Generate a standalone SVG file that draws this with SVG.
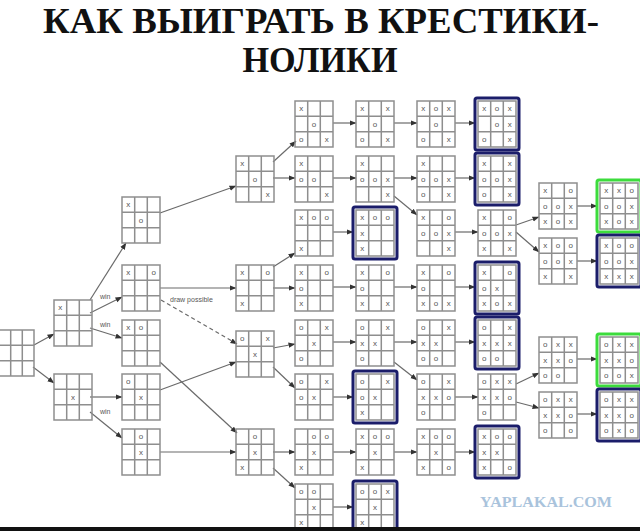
<svg xmlns="http://www.w3.org/2000/svg" xmlns:xlink="http://www.w3.org/1999/xlink" width="640" height="531" viewBox="0 0 640 531">
<style>
.g{fill:none;stroke:#8e8e8e;stroke-width:1.5}
.m{font-family:"Liberation Sans",Arial,sans-serif;font-size:8px;fill:#555;text-anchor:middle;opacity:0.99}
.c{stroke:#6a6a6a;stroke-width:1.2;fill:none;marker-end:url(#ah)}
.d{stroke-dasharray:4 3}
.lb{font-family:"Liberation Sans",Arial,sans-serif;font-size:7px;fill:#555;opacity:0.99}
.bl{fill:none;stroke:#1b1d6a;stroke-width:3;stroke-linejoin:round}
.gr{fill:none;stroke:#3cdc3c;stroke-width:3;stroke-linejoin:round}
.t{font-family:"Liberation Serif","Times New Roman",serif;font-weight:bold;font-size:36px;fill:#111;text-anchor:middle}
</style>
<defs>
<marker id="ah" markerWidth="7" markerHeight="6" refX="6.5" refY="3" orient="auto" markerUnits="userSpaceOnUse"><path d="M0,0.4 L7,3 L0,5.6Z" fill="#333"/></marker>
<g id="grid"><rect x="0" y="0" width="38" height="46" class="g"/><path d="M12.7,0V46M25.3,0V46M0,15.3H38M0,30.7H38" class="g"/></g>
<rect id="blue" x="-3" y="-3" width="44" height="52" rx="2" class="bl"/>
<rect id="green" x="-3" y="-3" width="44" height="52" rx="2" class="gr"/>
</defs>
<rect width="640" height="531" fill="#fff"/>
<text class="t" x="321" y="33" textLength="556" lengthAdjust="spacingAndGlyphs">КАК ВЫИГРАТЬ В КРЕСТИКИ-</text>
<text class="t" x="320" y="72" textLength="155" lengthAdjust="spacingAndGlyphs">НОЛИКИ</text>

<g id="connectors">
<path class="c" d="M34,345L54,334"/>
<path class="c" d="M33,367L54,383"/>
<path class="c" d="M90,300L126,243"/>
<path class="c" d="M90,313L122,297"/>
<path class="c" d="M90,328L122,338"/>
<path class="c" d="M90,397L122,397"/>
<path class="c" d="M90,412L122,438"/>
<path class="c" d="M160,213L236,186"/>
<path class="c" d="M160,288L236,288"/>
<path class="c d" d="M161,300L237,344"/>
<path class="c" d="M160,390L236,362"/>
<path class="c" d="M160,362L237,433"/>
<path class="c" d="M160,452L236,452"/>
<path class="c" d="M273,162L296,141"/>
<path class="c" d="M273,178L295,178"/>
<path class="c" d="M273,267L295,253"/>
<path class="c" d="M273,288L295,288"/>
<path class="c" d="M273,348L295,344"/>
<path class="c" d="M273,367L295,388"/>
<path class="c" d="M273,452L295,452"/>
<path class="c" d="M273,468L295,488"/>
<path class="c" d="M333,123L356,123"/>
<path class="c" d="M333,178L356,178"/>
<path class="c" d="M333,232L353,232"/>
<path class="c" d="M333,287L356,287"/>
<path class="c" d="M333,342L356,342"/>
<path class="c" d="M333,397L353,397"/>
<path class="c" d="M333,452L356,452"/>
<path class="c" d="M333,507L353,507"/>
<path class="c" d="M394,123L417,123"/>
<path class="c" d="M394,178L417,178"/>
<path class="c" d="M394,196L417,215"/>
<path class="c" d="M394,287L417,287"/>
<path class="c" d="M394,342L417,342"/>
<path class="c" d="M394,362L417,380"/>
<path class="c" d="M394,452L417,452"/>
<path class="c" d="M455,123L475,123"/>
<path class="c" d="M455,178L475,178"/>
<path class="c" d="M455,232L478,232"/>
<path class="c" d="M455,287L475,287"/>
<path class="c" d="M455,342L475,342"/>
<path class="c" d="M455,397L478,397"/>
<path class="c" d="M455,452L475,452"/>
<path class="c" d="M516,225L539,217"/>
<path class="c" d="M516,232L539,252"/>
<path class="c" d="M577,206L597,206"/>
<path class="c" d="M577,261L597,261"/>
<path class="c" d="M516,384L539,373"/>
<path class="c" d="M516,402L539,408"/>
<path class="c" d="M577,359L597,359"/>
<path class="c" d="M577,414L597,414"/>
<text class="lb" x="100" y="299">win</text>
<text class="lb" x="100" y="327">win</text>
<text class="lb" x="100" y="414">win</text>
<text class="lb" x="170" y="302">draw possible</text>
</g>

<g id="n0" transform="translate(-1,330)"><rect x="0" y="0" width="35" height="46" class="g"/><path d="M11.7,0V46M23.3,0V46M0,15.3H35M0,30.7H35" class="g"/></g>

<g id="n1a" transform="translate(54,300)"><use href="#grid"/><text class="m" x="6.3" y="10.3">x</text></g>
<g id="n1b" transform="translate(54,374)"><use href="#grid"/><text class="m" x="19" y="25.6">x</text></g>

<g id="n2a" transform="translate(122,197)"><use href="#grid"/><text class="m" x="6.3 19" y="10.3 25.6">xo</text></g>
<g id="n2b" transform="translate(122,265)"><use href="#grid"/><text class="m" x="6.3 31.7" y="10.3 10.3">xo</text></g>
<g id="n2c" transform="translate(122,320)"><use href="#grid"/><text class="m" x="6.3 19" y="10.3 10.3">xo</text></g>
<g id="n2d" transform="translate(122,374)"><use href="#grid"/><text class="m" x="6.3 19" y="10.3 25.6">ox</text></g>
<g id="n2e" transform="translate(122,429)"><use href="#grid"/><text class="m" x="19 19" y="10.3 25.6">ox</text></g>

<g id="n3a" transform="translate(236,156)"><use href="#grid"/><text class="m" x="6.3 19 31.7" y="10.3 25.6 40.9">xox</text></g>
<g id="n3b" transform="translate(236,265)"><use href="#grid"/><text class="m" x="6.3 31.7 6.3" y="10.3 10.3 40.9">xox</text></g>
<g id="n3c" transform="translate(236,331)"><use href="#grid"/><text class="m" x="6.3 31.7 19" y="10.3 10.3 25.6">oxx</text></g>
<g id="n3d" transform="translate(236,429)"><use href="#grid"/><text class="m" x="19 19 6.3" y="10.3 25.6 40.9">oxx</text></g>

<g id="n4r0" transform="translate(295,101)"><use href="#grid"/><text class="m" x="6.3 19 6.3 31.7" y="10.3 25.6 40.9 40.9">xoox</text></g>
<g id="n4r1" transform="translate(295,156)"><use href="#grid"/><text class="m" x="6.3 6.3 19 31.7" y="10.3 25.6 25.6 40.9">xoox</text></g>
<g id="n4r2" transform="translate(295,210)"><use href="#grid"/><text class="m" x="6.3 19 31.7 6.3" y="10.3 10.3 10.3 40.9">xoox</text></g>
<g id="n4r3" transform="translate(295,265)"><use href="#grid"/><text class="m" x="6.3 31.7 6.3 6.3" y="10.3 10.3 25.6 40.9">xoox</text></g>
<g id="n4r4" transform="translate(295,320)"><use href="#grid"/><text class="m" x="6.3 31.7 19 6.3" y="10.3 10.3 25.6 40.9">oxxo</text></g>
<g id="n4r5" transform="translate(295,374)"><use href="#grid"/><text class="m" x="6.3 31.7 6.3 19" y="10.3 10.3 25.6 25.6">oxox</text></g>
<g id="n4r6" transform="translate(295,429)"><use href="#grid"/><text class="m" x="19 31.7 19 6.3" y="10.3 10.3 25.6 40.9">ooxx</text></g>
<g id="n4r7" transform="translate(295,484)"><use href="#grid"/><text class="m" x="6.3 19 19 6.3" y="10.3 10.3 25.6 40.9">ooxx</text></g>

<g id="n5r0" transform="translate(356,101)"><use href="#grid"/><text class="m" x="6.3 31.7 19 6.3 31.7" y="10.3 10.3 25.6 40.9 40.9">xxoox</text></g>
<g id="n5r1" transform="translate(356,156)"><use href="#grid"/><text class="m" x="6.3 6.3 19 31.7 31.7" y="10.3 25.6 25.6 25.6 40.9">xooxx</text></g>
<g id="n5r2" transform="translate(356,210)"><use href="#grid"/><use href="#blue"/><text class="m" x="6.3 19 31.7 6.3 6.3" y="10.3 10.3 10.3 25.6 40.9">xooxx</text></g>
<g id="n5r3" transform="translate(356,265)"><use href="#grid"/><text class="m" x="6.3 31.7 6.3 6.3 31.7" y="10.3 10.3 25.6 40.9 40.9">xooxx</text></g>
<g id="n5r4" transform="translate(356,320)"><use href="#grid"/><text class="m" x="6.3 31.7 6.3 19 6.3" y="10.3 10.3 25.6 25.6 40.9">oxxxo</text></g>
<g id="n5r5" transform="translate(356,374)"><use href="#grid"/><use href="#blue"/><text class="m" x="6.3 31.7 6.3 19 6.3" y="10.3 10.3 25.6 25.6 40.9">oxoxx</text></g>
<g id="n5r6" transform="translate(356,429)"><use href="#grid"/><text class="m" x="6.3 19 31.7 19 6.3" y="10.3 10.3 10.3 25.6 40.9">xooxx</text></g>
<g id="n5r7" transform="translate(356,484)"><use href="#grid"/><use href="#blue"/><text class="m" x="6.3 19 31.7 19 6.3" y="10.3 10.3 10.3 25.6 40.9">ooxxx</text></g>

<g id="n6r0" transform="translate(417,101)"><use href="#grid"/><text class="m" x="6.3 19 31.7 19 6.3 31.7" y="10.3 10.3 10.3 25.6 40.9 40.9">xoxoox</text></g>
<g id="n6r1" transform="translate(417,156)"><use href="#grid"/><text class="m" x="6.3 6.3 19 31.7 6.3 31.7" y="10.3 25.6 25.6 25.6 40.9 40.9">xooxox</text></g>
<g id="n6r2" transform="translate(417,210)"><use href="#grid"/><text class="m" x="6.3 31.7 6.3 19 31.7 31.7" y="10.3 10.3 25.6 25.6 25.6 40.9">xoooxx</text></g>
<g id="n6r3" transform="translate(417,265)"><use href="#grid"/><text class="m" x="6.3 31.7 6.3 6.3 19 31.7" y="10.3 10.3 25.6 40.9 40.9 40.9">xooxox</text></g>
<g id="n6r4" transform="translate(417,320)"><use href="#grid"/><text class="m" x="6.3 31.7 6.3 19 6.3 19" y="10.3 10.3 25.6 25.6 40.9 40.9">oxxxoo</text></g>
<g id="n6r5" transform="translate(417,374)"><use href="#grid"/><text class="m" x="6.3 31.7 6.3 19 31.7 6.3" y="10.3 10.3 25.6 25.6 25.6 40.9">oxxxoo</text></g>
<g id="n6r6" transform="translate(417,429)"><use href="#grid"/><text class="m" x="6.3 19 31.7 19 6.3 31.7" y="10.3 10.3 10.3 25.6 40.9 40.9">xooxxo</text></g>

<g id="n7r0" transform="translate(478,101)"><use href="#grid"/><use href="#blue"/><text class="m" x="6.3 19 31.7 19 31.7 6.3 31.7" y="10.3 10.3 10.3 25.6 25.6 40.9 40.9">xoxoxox</text></g>
<g id="n7r1" transform="translate(478,156)"><use href="#grid"/><use href="#blue"/><text class="m" x="6.3 31.7 6.3 19 31.7 6.3 31.7" y="10.3 10.3 25.6 25.6 25.6 40.9 40.9">xxooxox</text></g>
<g id="n7r2" transform="translate(478,210)"><use href="#grid"/><text class="m" x="6.3 31.7 6.3 19 31.7 6.3 31.7" y="10.3 10.3 25.6 25.6 25.6 40.9 40.9">xoooxxx</text></g>
<g id="n7r3" transform="translate(478,265)"><use href="#grid"/><use href="#blue"/><text class="m" x="6.3 31.7 6.3 19 6.3 19 31.7" y="10.3 10.3 25.6 25.6 40.9 40.9 40.9">xooxxox</text></g>
<g id="n7r4" transform="translate(478,320)"><use href="#grid"/><use href="#blue"/><text class="m" x="6.3 31.7 6.3 19 31.7 6.3 19" y="10.3 10.3 25.6 25.6 25.6 40.9 40.9">oxxxxoo</text></g>
<g id="n7r5" transform="translate(478,374)"><use href="#grid"/><text class="m" x="6.3 19 31.7 6.3 19 31.7 6.3" y="10.3 10.3 10.3 25.6 25.6 25.6 40.9">oxxxxoo</text></g>
<g id="n7r6" transform="translate(478,429)"><use href="#grid"/><use href="#blue"/><text class="m" x="6.3 19 31.7 6.3 19 6.3 31.7" y="10.3 10.3 10.3 25.6 25.6 40.9 40.9">xooxxxo</text></g>

<g id="n8a" transform="translate(539,183)"><use href="#grid"/><text class="m" x="6.3 31.7 6.3 19 31.7 6.3 19 31.7" y="10.3 10.3 25.6 25.6 25.6 40.9 40.9 40.9">xoooxxox</text></g>
<g id="n8b" transform="translate(539,238)"><use href="#grid"/><text class="m" x="6.3 19 31.7 6.3 19 31.7 6.3 31.7" y="10.3 10.3 10.3 25.6 25.6 25.6 40.9 40.9">xooooxxx</text></g>
<g id="n8c" transform="translate(539,337)"><use href="#grid"/><text class="m" x="6.3 19 31.7 6.3 19 31.7 6.3 19" y="10.3 10.3 10.3 25.6 25.6 25.6 40.9 40.9">oxxxxooo</text></g>
<g id="n8d" transform="translate(539,392)"><use href="#grid"/><text class="m" x="6.3 19 31.7 6.3 19 31.7 6.3 31.7" y="10.3 10.3 10.3 25.6 25.6 25.6 40.9 40.9">oxxxxooo</text></g>

<g id="n9a" transform="translate(600,183)"><use href="#grid"/><use href="#green"/><text class="m" x="6.3 19 31.7 6.3 19 31.7 6.3 19 31.7" y="10.3 10.3 10.3 25.6 25.6 25.6 40.9 40.9 40.9">xxoooxxox</text></g>
<g id="n9b" transform="translate(600,238)"><use href="#grid"/><use href="#blue"/><text class="m" x="6.3 19 31.7 6.3 19 31.7 6.3 19 31.7" y="10.3 10.3 10.3 25.6 25.6 25.6 40.9 40.9 40.9">xooooxxxx</text></g>
<g id="n9c" transform="translate(600,337)"><use href="#grid"/><use href="#green"/><text class="m" x="6.3 19 31.7 6.3 19 31.7 6.3 19 31.7" y="10.3 10.3 10.3 25.6 25.6 25.6 40.9 40.9 40.9">oxxxxooox</text></g>
<g id="n9d" transform="translate(600,392)"><use href="#grid"/><use href="#blue"/><text class="m" x="6.3 19 31.7 6.3 19 31.7 6.3 19 31.7" y="10.3 10.3 10.3 25.6 25.6 25.6 40.9 40.9 40.9">oxxxxooxo</text></g>

<text x="480" y="507" textLength="132" lengthAdjust="spacingAndGlyphs" style="font-family:'Liberation Serif','Times New Roman',serif;font-weight:bold;font-size:15px;fill:#a9c3dc">YAPLAKAL.COM</text>
<rect x="0" y="527" width="640" height="4" fill="#111"/>
</svg>
